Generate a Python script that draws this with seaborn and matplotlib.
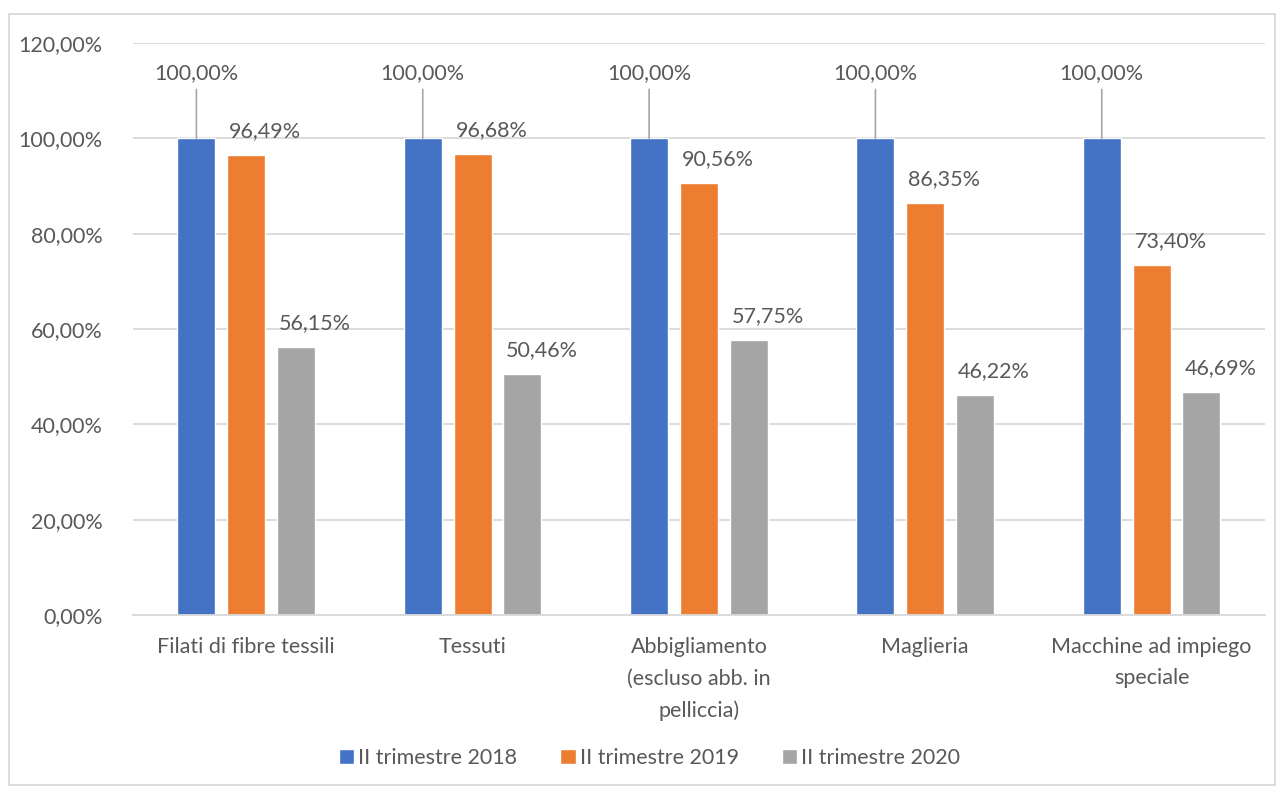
import pandas as pd
import matplotlib.pyplot as plt
import seaborn as sns
from matplotlib.patches import Rectangle

categories = ['Filati di fibre tessili', 'Tessuti', 'Abbigliamento\n(escluso abb. in\npelliccia)',
              'Maglieria', 'Macchine ad impiego\nspeciale']
series = ['II trimestre 2018', 'II trimestre 2019', 'II trimestre 2020']
v2018 = [100.00, 100.00, 100.00, 100.00, 100.00]
v2019 = [96.49, 96.68, 90.56, 86.35, 73.40]
v2020 = [56.15, 50.46, 57.75, 46.22, 46.69]
yticks = [0, 20, 40, 60, 80, 100, 120]

df = pd.DataFrame({'cat': categories * 3,
                   'serie': [series[0]] * 5 + [series[1]] * 5 + [series[2]] * 5,
                   'val': v2018 + v2019 + v2020})

sns.set_style("white")
plt.rcParams['font.family'] = ['Lato', 'DejaVu Sans']
txt = '#595959'
colors = ['#4472C4', '#ED7D31', '#A5A5A5']
fs = 15.5

fig = plt.figure(figsize=(12.84, 7.93), dpi=100)
ax = fig.add_axes([0.1036, 0.2245, 0.8814, 0.7213])
sns.barplot(data=df, x='cat', y='val', hue='serie', palette=colors, width=0.66, gap=0.236,
            saturation=1, ax=ax, legend=True)

ax.set_ylim(0, 120)
ax.set_yticks(yticks)
ax.set_yticklabels([f'{t},00%' for t in yticks], fontsize=fs, color=txt)
ax.tick_params(axis='x', labelsize=fs, labelcolor=txt, length=0, pad=16)
for t in ax.get_xticklabels():
    t.set_linespacing(1.7)
ax.tick_params(axis='y', length=0, pad=22)
ax.set_xlabel('')
ax.set_ylabel('')
ax.grid(axis='y', color='#D9D9D9', linewidth=1.3)
ax.set_axisbelow(True)
for s in ['top', 'right', 'left']:
    ax.spines[s].set_visible(False)
ax.spines['bottom'].set_color('#D9D9D9')
ax.spines['bottom'].set_linewidth(1.3)

# data labels
for i, cont in enumerate(ax.containers):
    for bar in cont:
        h = bar.get_height()
        lab = f'{h:.2f}%'.replace('.', ',')
        if i == 0:
            xc = bar.get_x() + bar.get_width() / 2
            ax.annotate(lab, (xc, h), xytext=(0, 65), textcoords='offset pixels',
                        ha='center', va='center', fontsize=fs, color=txt,
                        arrowprops=dict(arrowstyle='-', color='#A6A6A6', lw=1.2,
                                        shrinkA=2, shrinkB=0))
        else:
            ax.annotate(lab, (bar.get_x(), h), xytext=(2, 24), textcoords='offset pixels',
                        ha='left', va='center', fontsize=fs, color=txt)

handles, labels = ax.get_legend_handles_labels()
ax.get_legend().remove()
fig.legend(handles, labels, loc='center', bbox_to_anchor=(0.506, 0.044), ncol=3, frameon=False,
           fontsize=fs, labelcolor=txt, handlelength=0.7, handleheight=0.7,
           handletextpad=0.2, columnspacing=2.0)

fig.patches.append(Rectangle((9 / 1284, 8 / 793), 1266 / 1284, 771 / 793, transform=fig.transFigure,
                             fill=False, edgecolor='#D9D9D9', linewidth=1.3))

plt.savefig('out.png', dpi=100)
